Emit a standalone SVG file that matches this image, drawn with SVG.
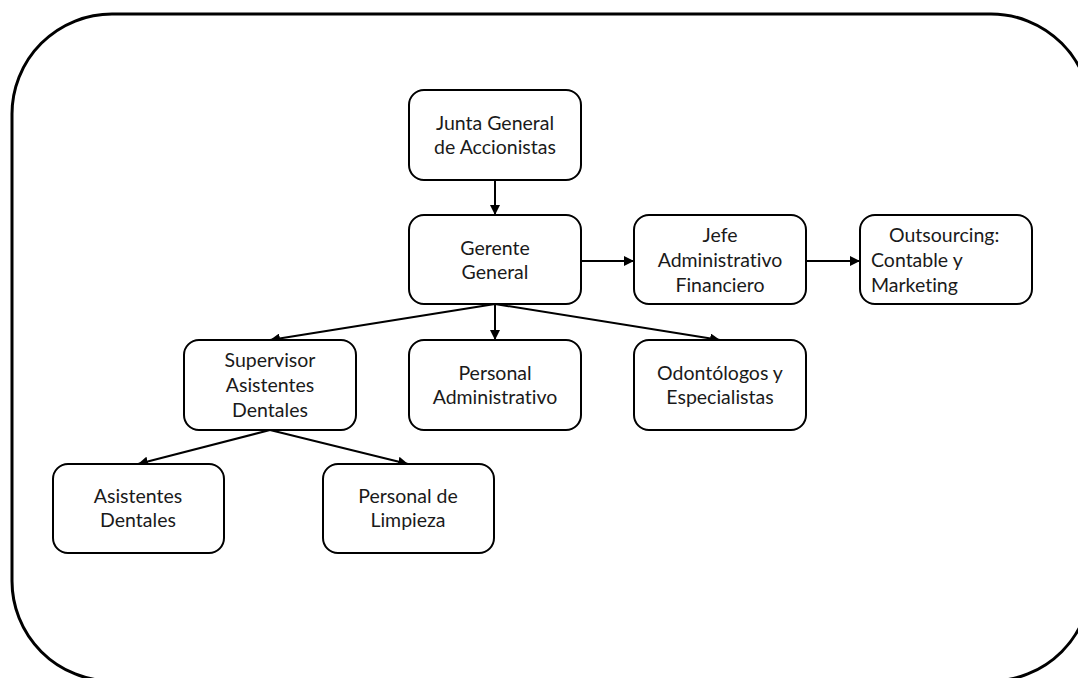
<svg xmlns="http://www.w3.org/2000/svg" width="1078" height="678" viewBox="0 0 1078 678">
<defs>
<marker id="ah" viewBox="0 0 10 10" refX="10" refY="5" markerWidth="5" markerHeight="5" orient="auto" markerUnits="strokeWidth">
<path d="M0,0 L10,5 L0,10 z" fill="#000"/>
</marker>
<style>
.box{fill:#fff;stroke:#000;stroke-width:2}
.t{font-family:Lato,"Liberation Sans",sans-serif;font-size:19.5px;fill:#1a1a1a;text-anchor:middle;font-variant-ligatures:none}
.ts{font-family:Lato,"Liberation Sans",sans-serif;font-size:19.5px;fill:#1a1a1a;text-anchor:start;font-variant-ligatures:none}
.c{stroke:#000;stroke-width:2;fill:none;marker-end:url(#ah)}
</style>
</defs>
<rect width="1078" height="678" fill="#fff"/>
<rect id="frame" x="12" y="14" width="1079" height="667" rx="100" ry="100" fill="none" stroke="#000" stroke-width="3"/>
<g id="connectors">
<line class="c" x1="495" y1="180" x2="495" y2="215"/>
<line class="c" x1="581" y1="261" x2="634" y2="261"/>
<line class="c" x1="806" y1="261" x2="860" y2="261"/>
<line class="c" x1="495" y1="304" x2="270" y2="340"/>
<line class="c" x1="495" y1="304" x2="495" y2="340"/>
<line class="c" x1="495" y1="304" x2="720" y2="340"/>
<line class="c" x1="270" y1="430" x2="138" y2="464"/>
<line class="c" x1="270" y1="430" x2="408" y2="464"/>
</g>
<g id="junta">
<rect class="box" x="409" y="90" width="172" height="90" rx="15"/>
<text class="t" x="495" y="130">Junta General</text>
<text class="t" x="495" y="154">de Accionistas</text>
</g>
<g id="gerente">
<rect class="box" x="409" y="215" width="172" height="89" rx="15"/>
<text class="t" x="495" y="255">Gerente</text>
<text class="t" x="495" y="279">General</text>
</g>
<g id="jefe">
<rect class="box" x="634" y="215" width="172" height="89" rx="15"/>
<text class="t" x="720" y="242">Jefe</text>
<text class="t" x="720" y="267">Administrativo</text>
<text class="t" x="720" y="292">Financiero</text>
</g>
<g id="outsourcing">
<rect class="box" x="860" y="215" width="172" height="89" rx="15"/>
<text class="ts" x="889" y="242">Outsourcing:</text>
<text class="ts" x="871" y="267">Contable y</text>
<text class="ts" x="871" y="292">Marketing</text>
</g>
<g id="supervisor">
<rect class="box" x="184" y="340" width="172" height="90" rx="15"/>
<text class="t" x="270" y="367">Supervisor</text>
<text class="t" x="270" y="392">Asistentes</text>
<text class="t" x="270" y="417">Dentales</text>
</g>
<g id="personal-admin">
<rect class="box" x="409" y="340" width="172" height="90" rx="15"/>
<text class="t" x="495" y="380">Personal</text>
<text class="t" x="495" y="404">Administrativo</text>
</g>
<g id="odontologos">
<rect class="box" x="634" y="340" width="172" height="90" rx="15"/>
<text class="t" x="720" y="380">Odontólogos y</text>
<text class="t" x="720" y="404">Especialistas</text>
</g>
<g id="asistentes">
<rect class="box" x="53" y="464" width="171" height="89" rx="15"/>
<text class="t" x="138" y="503">Asistentes</text>
<text class="t" x="138" y="527">Dentales</text>
</g>
<g id="limpieza">
<rect class="box" x="323" y="464" width="171" height="89" rx="15"/>
<text class="t" x="408" y="503">Personal de</text>
<text class="t" x="408" y="527">Limpieza</text>
</g>
</svg>
